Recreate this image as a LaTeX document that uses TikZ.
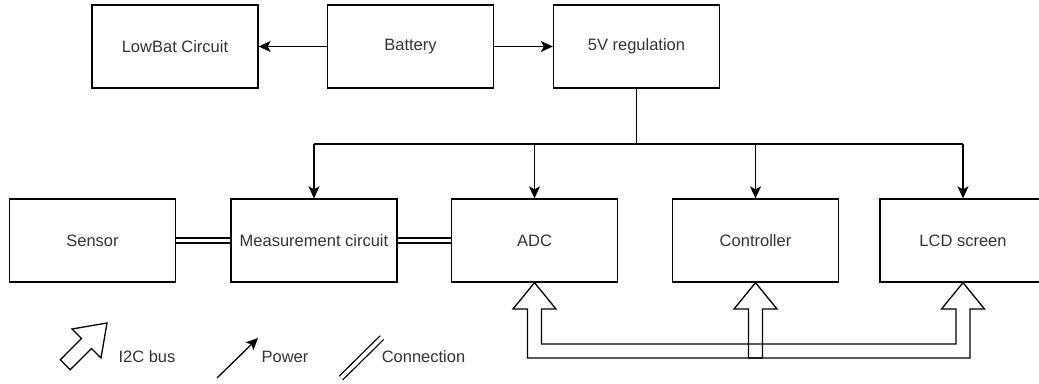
\documentclass[tikz,border=0pt]{standalone}
\usepackage{fontspec}
\setmainfont{Liberation Sans}
\usetikzlibrary{arrows.meta,calc}
\definecolor{txt}{HTML}{333333}
\begin{document}
\begin{tikzpicture}[x=1pt,y=-1pt, line width=1.3pt,
  box/.style={draw, minimum width=166pt, minimum height=83pt, inner sep=0pt,
    font=\fontsize{16.5}{20}\selectfont, text=txt},
  pw/.style={-{Stealth[length=12pt,width=11pt,inset=3pt]}},
  conn/.style={double=white, double distance=3.7pt},
  bus/.style={line join=miter},
  lbl/.style={font=\fontsize{16.5}{20}\selectfont, text=txt, inner sep=0pt}]
\useasboundingbox (0,0) rectangle (1039,383);
\clip (0,0) rectangle (1039,383);
% boxes
\node[box] (lowbat) at (175,46.5) {LowBat Circuit};
\node[box] (bat) at (410.5,46.5) {Battery};
\node[box] (reg) at (636.5,46.5) {5V regulation};
\node[box] (sensor) at (92.5,240.5) {Sensor};
\node[box] (meas) at (314,240.5) {Measurement circuit};
\node[box] (adc) at (534.5,240.5) {ADC};
\node[box] (ctrl) at (755.5,240.5) {Controller};
\node[box] (lcd) at (963,240.5) {LCD screen};
% power
\draw[pw] (bat) -- (lowbat);
\draw[pw] (bat) -- (reg);
\coordinate (busy) at (0,144);
\draw (reg.south) -- (reg.south |- busy);
\draw (meas.north |- busy) -- (lcd.north |- busy);
\foreach \n in {meas,adc,ctrl,lcd} \draw[pw] (\n.north |- busy) -- (\n.north);
% connections
\draw[conn] (sensor) -- (meas);
\draw[conn] (meas) -- (adc);
% I2C bus
\coordinate (hb) at (0,309);
\coordinate (ib) at (0,344);
\coordinate (ob) at (0,358);
\draw[bus] (adc.south) -- ($(adc.south |- hb)+(-21.5,0)$) -- ($(adc.south |- hb)+(-7,0)$)
  -- ($(adc.south |- ob)+(-7,0)$) -- ($(lcd.south |- ob)+(7,0)$) -- ($(lcd.south |- hb)+(7,0)$)
  -- ($(lcd.south |- hb)+(21.5,0)$) -- (lcd.south) -- ($(lcd.south |- hb)+(-21.5,0)$)
  -- ($(lcd.south |- hb)+(-7,0)$) -- ($(lcd.south |- ib)+(-7,0)$) -- ($(adc.south |- ib)+(7,0)$)
  -- ($(adc.south |- hb)+(7,0)$) -- ($(adc.south |- hb)+(21.5,0)$) -- cycle;
\draw[bus] (ctrl.south) -- ($(ctrl.south |- hb)+(21.5,0)$) -- ($(ctrl.south |- hb)+(7,0)$)
  -- ($(ctrl.south |- ob)+(7,0)$) -- ($(ctrl.south |- ob)+(-7,0)$) -- ($(ctrl.south |- hb)+(-7,0)$)
  -- ($(ctrl.south |- hb)+(-21.5,0)$) -- cycle;
% legend
\draw[bus] (107,323) -- (101,358) -- (91.5,348.5) -- (70.2,369.7) -- (60.3,359.8)
  -- (81.5,338.5) -- (72,329) -- cycle;
\node[lbl] (li2c) at (147,357) {I2C bus};
\coordinate (pa) at (217,378);
\coordinate (pb) at (258,338);
\draw[pw] (pa) -- (pb);
\node[lbl] (lpow) at (285,357) {Power};
\coordinate (ca) at (341,378);
\coordinate (cb) at (382,337.5);
\draw[conn] (ca) -- (cb);
\node[lbl] (lcon) at (423.5,357) {Connection};
\end{tikzpicture}
\end{document}
